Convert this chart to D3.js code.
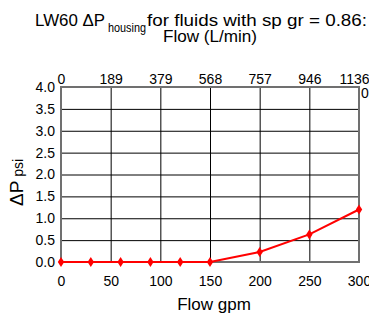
<!DOCTYPE html>
<html>
<head>
<meta charset="utf-8">
<script src="https://cdn.jsdelivr.net/npm/d3@7"></script>
<style>
  body { margin: 0; background: #fff; }
  text { font-family: Arial, 'Liberation Sans', sans-serif; fill: #000; }
</style>
</head>
<body>
<div id="chart"></div>
<script>
'use strict';

// ── data ─────────────────────────────────────────────
const gpmTicks  = [0, 50, 100, 150, 200, 250, 300];
const lpmLabels = ['0', '189', '379', '568', '757', '946', '1136'];
const psiTicks  = [0, 0.5, 1, 1.5, 2, 2.5, 3, 3.5, 4];
const flowGpm   = [0, 30, 60, 90, 120, 150, 200, 250, 300];
const dpPsi     = [0, 0, 0, 0, 0, 0, 0.23, 0.63, 1.2];

const W = 369, H = 316;
const margin = { top: 87, right: 10, bottom: 54, left: 61 };
const iw = W - margin.left - margin.right;
const ih = H - margin.top - margin.bottom;

const svg = d3.select('#chart').append('svg')
  .attr('width', W).attr('height', H);

const x = d3.scaleLinear().domain([0, 300]).range([0, iw]);
const y = d3.scaleLinear().domain([0, 4]).range([ih, 0]);

const g = svg.append('g').attr('transform', `translate(${margin.left},${margin.top})`);

// grid
g.append('g')
  .call(d3.axisBottom(x).tickValues(gpmTicks).tickSize(ih).tickFormat(''))
  .call(a => a.select('.domain').remove())
  .selectAll('line').attr('stroke', '#000').attr('stroke-width', 1);
g.append('g')
  .call(d3.axisLeft(y).tickValues(psiTicks).tickSize(-iw).tickFormat(''))
  .call(a => a.select('.domain').remove())
  .selectAll('line').attr('stroke', '#000').attr('stroke-width', 1);

// frame
g.append('rect')
  .attr('width', iw).attr('height', ih)
  .attr('fill', 'none').attr('stroke', '#707070').attr('stroke-width', 2);

// axes labels
const bottomAxis = g.append('g').attr('transform', `translate(0,${ih})`)
  .call(d3.axisBottom(x).tickValues(gpmTicks).tickSize(0).tickPadding(14).tickFormat(d3.format('d')));
bottomAxis.select('.domain').remove();
bottomAxis.selectAll('text').attr('font-size', 14).attr('font-family', 'Arial, Liberation Sans');

const topAxis = g.append('g')
  .call(d3.axisTop(x).tickValues(gpmTicks).tickSize(0).tickPadding(3)
    .tickFormat((d, i) => lpmLabels[i]));
topAxis.select('.domain').remove();
topAxis.selectAll('text').attr('font-size', 14).attr('font-family', 'Arial, Liberation Sans');
// last label is pushed in so it stays inside the picture
topAxis.selectAll('.tick').filter(d => d === 300).select('text')
  .attr('text-anchor', 'end').attr('x', W - margin.left - iw);

const leftAxis = g.append('g')
  .call(d3.axisLeft(y).tickValues(psiTicks).tickSize(0).tickPadding(6).tickFormat(d3.format('.1f')));
leftAxis.select('.domain').remove();
leftAxis.selectAll('text').attr('font-size', 14).attr('font-family', 'Arial, Liberation Sans');

// cut-off label at right edge
g.append('text')
  .attr('x', iw + 2).attr('y', 11)
  .attr('font-size', 14)
  .text('0');

// series
const line = d3.line().x((d, i) => x(flowGpm[i])).y(d => y(d));
g.append('path')
  .datum(dpPsi)
  .attr('d', line)
  .attr('fill', 'none')
  .attr('stroke', '#ff0000')
  .attr('stroke-width', 2);

g.selectAll('.mk')
  .data(dpPsi)
  .join('path')
  .attr('class', 'mk')
  .attr('transform', (d, i) => `translate(${x(flowGpm[i])},${y(d)})`)
  .attr('d', 'M0,-5L3.2,0L0,5L-3.2,0Z')
  .attr('fill', '#ff0000');

// titles
svg.append('text')
  .attr('x', 35).attr('y', 26)
  .attr('font-size', 17)
  .attr('textLength', 70).attr('lengthAdjust', 'spacingAndGlyphs')
  .text('LW60 \u0394P');
svg.append('text')
  .attr('x', 108).attr('y', 32)
  .attr('font-size', 13)
  .attr('textLength', 38).attr('lengthAdjust', 'spacingAndGlyphs')
  .text('housing');
svg.append('text')
  .attr('x', 147).attr('y', 26)
  .attr('font-size', 17)
  .attr('textLength', 220).attr('lengthAdjust', 'spacingAndGlyphs')
  .text('for fluids with sp gr = 0.86:');

svg.append('text')
  .attr('x', 210).attr('y', 42)
  .attr('text-anchor', 'middle')
  .attr('font-size', 16)
  .attr('textLength', 94).attr('lengthAdjust', 'spacingAndGlyphs')
  .text('Flow (L/min)');

svg.append('text')
  .attr('x', 214).attr('y', 310)
  .attr('text-anchor', 'middle')
  .attr('font-size', 17)
  .text('Flow gpm');

const yl = svg.append('text')
  .attr('transform', 'translate(23,206) rotate(-90)');
yl.append('tspan').attr('font-size', 19).text('\u0394P');
yl.append('tspan').attr('font-size', 14).text(' psi');
</script>
</body>
</html>
